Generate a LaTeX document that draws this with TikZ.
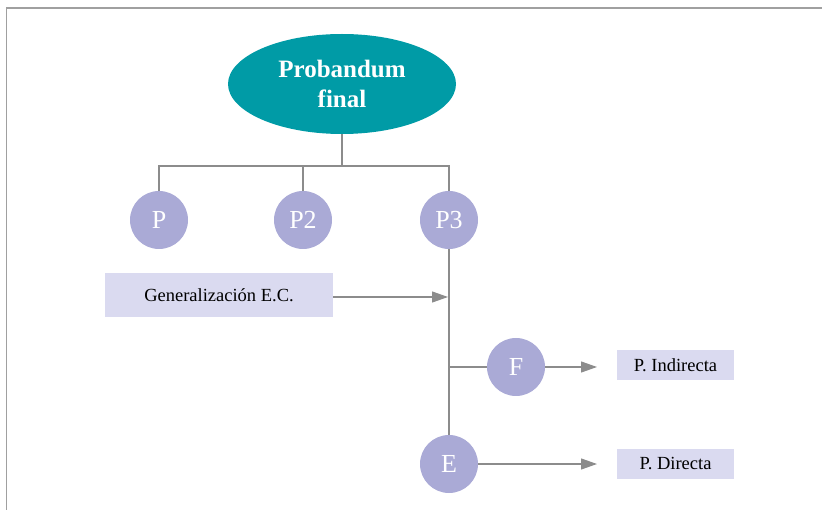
\documentclass[tikz,border=0pt]{standalone}
\usepackage{fontspec}
\setmainfont{Liberation Serif}
\usetikzlibrary{shapes.geometric,arrows.meta}
\definecolor{teal1}{HTML}{009BA6}
\definecolor{lav}{HTML}{AAAAD6}
\definecolor{lavbox}{HTML}{DADAF0}
\definecolor{ln}{HTML}{8C8C8C}
\definecolor{frame}{HTML}{A0A0A0}
\tikzset{
  circ/.style={circle, fill=lav, minimum size=58pt, inner sep=0pt, text=white, font=\fontsize{26}{28}\selectfont},
  lbox/.style={fill=lavbox, inner sep=0pt, font=\fontsize{18.5}{20}\selectfont, text=black},
  conn/.style={draw=ln, line width=1.2pt},
  arr/.style={conn, -{Triangle[length=16pt,width=11pt]}, color=ln},
}
\begin{document}
\begin{tikzpicture}[x=1pt,y=-1pt]
\useasboundingbox (0,0) rectangle (822,510);
\draw[frame, line width=1.5pt] (6.5,510) -- (6.5,8) -- (822,8);
\node[ellipse, fill=teal1, minimum width=228pt, minimum height=100pt, inner sep=0pt, text=white, align=center, font=\bfseries\fontsize{25}{30}\selectfont] (pf) at (342,84) {Probandum\\final};
\node[circ] (p) at (159,220) {P};
\node[circ] (p2) at (303,220) {P2};
\node[circ] (p3) at (449,220) {P3};
\node[circ] (f) at (516,367) {F};
\node[circ] (e) at (449,464) {E};
\node[lbox, minimum width=228pt, minimum height=44pt] (g) at (219,295) {Generalización E.C.};
\node[lbox, minimum width=117pt, minimum height=30pt] (pi) at (675.5,365) {P. Indirecta};
\node[lbox, minimum width=117pt, minimum height=30pt] (pd) at (675.5,464) {P. Directa};
\coordinate (hub) at (342,166);
\coordinate (ga) at (448,297);
\coordinate (fj) at (449,367);
\coordinate (pia) at (597,367);
\coordinate (pda) at (597,464);
\draw[conn] (pf.south) -- (hub);
\draw[conn] (p.north) |- (hub) -| (p3.north);
\draw[conn] (p2.north) -- (p2.north |- hub);
\draw[conn] (p3.south) -- (e.north);
\draw[conn] (fj) -- (f.west);
\draw[arr] (g.east |- ga) -- (ga);
\draw[arr] (f.east) -- (pia);
\draw[arr] (e.east) -- (pda);
\end{tikzpicture}
\end{document}
